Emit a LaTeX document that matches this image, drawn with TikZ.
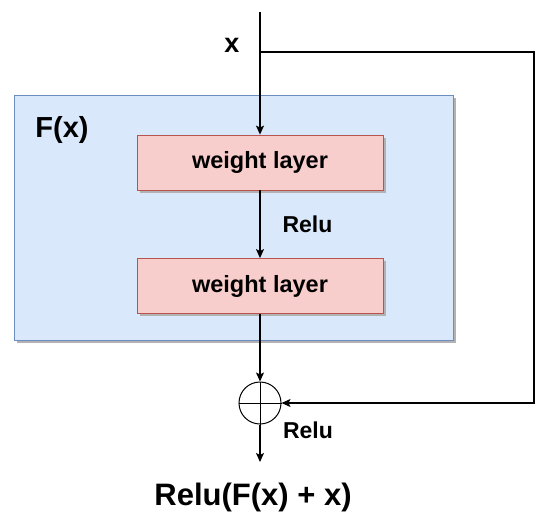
\documentclass[tikz,border=0pt]{standalone}
\usepackage{fontspec}
\setmainfont{Liberation Sans}
\usepackage{xcolor}
\usetikzlibrary{shadows}
\usetikzlibrary{shapes.geometric, positioning, arrows.meta, calc}

\definecolor{blockfill}{HTML}{DAE8FC}
\definecolor{blockline}{HTML}{6C8EBF}
\definecolor{layerfill}{HTML}{F8CECC}
\definecolor{layerline}{HTML}{B85450}

\begin{document}
\begin{tikzpicture}[
    x=1pt, y=-1pt,
    line width=1.2pt,
    >={Stealth[length=9pt, width=8pt, inset=2pt]},
    block/.style={draw=blockline, fill=blockfill, line width=0.8pt, rectangle, minimum width=439pt, minimum height=245pt, anchor=north west, drop shadow={shadow xshift=2.5pt, shadow yshift=-2.5pt, fill=black!30, opacity=1}},
    layer/.style={draw=layerline, fill=layerfill, line width=0.8pt, rectangle, minimum width=246pt, minimum height=55pt, align=center, font=\fontsize{23.5}{27}\selectfont\bfseries, drop shadow={shadow xshift=2.5pt, shadow yshift=-2.5pt, fill=black!30, opacity=1}},
    adder/.style={draw, circle, line width=1pt, minimum size=42pt, inner sep=0pt},
    label/.style={font=\fontsize{23}{27}\selectfont\bfseries, inner sep=0pt}
]
    \useasboundingbox (0,0) rectangle (550,528);

    % ================= RESIDUAL BLOCK =================
    \node[block] (FX) at (14,95) {};
    \node[label, font=\fontsize{29}{33}\selectfont\bfseries] (FXLBL) at (62,130) {F(x)};

    \node[layer] (WL1) at (260,162.5) {weight layer};
    \node[layer] (WL2) at (260,286) {weight layer};

    % ================= INPUT AND ADDITION =================
    \coordinate (IN) at (260,12);
    \coordinate (SPLIT) at (260,52);
    \node[label, font=\fontsize{27}{31}\selectfont\bfseries] (XLBL) at (232,45) {x};

    \node[adder] (ADD) at (260,403) {};
    \draw[line width=1pt] (ADD.north) -- (ADD.south);
    \draw[line width=1pt] (ADD.west) -- (ADD.east);

    \coordinate (END) at (260,462);
    \node[label, font=\fontsize{31}{35}\selectfont\bfseries] (OUT) at (253,497) {Relu(F(x) + x)};

    % ================= CONNECTIONS =================
    \draw[->] (IN) -- (WL1.north);
    \draw[->] (WL1.south) -- (WL2.north) node[midway, label, right=22pt] (RELU1) {Relu};
    \draw[->] (WL2.south) -- (ADD.north);
    \draw[->] (ADD.south) -- (END);
    \node[label] (RELU2) at (308,430) {Relu};

    % Identity shortcut
    \draw[->] (SPLIT) -- (534,52) -- (534,403) -- (ADD.east);

\end{tikzpicture}
\end{document}
